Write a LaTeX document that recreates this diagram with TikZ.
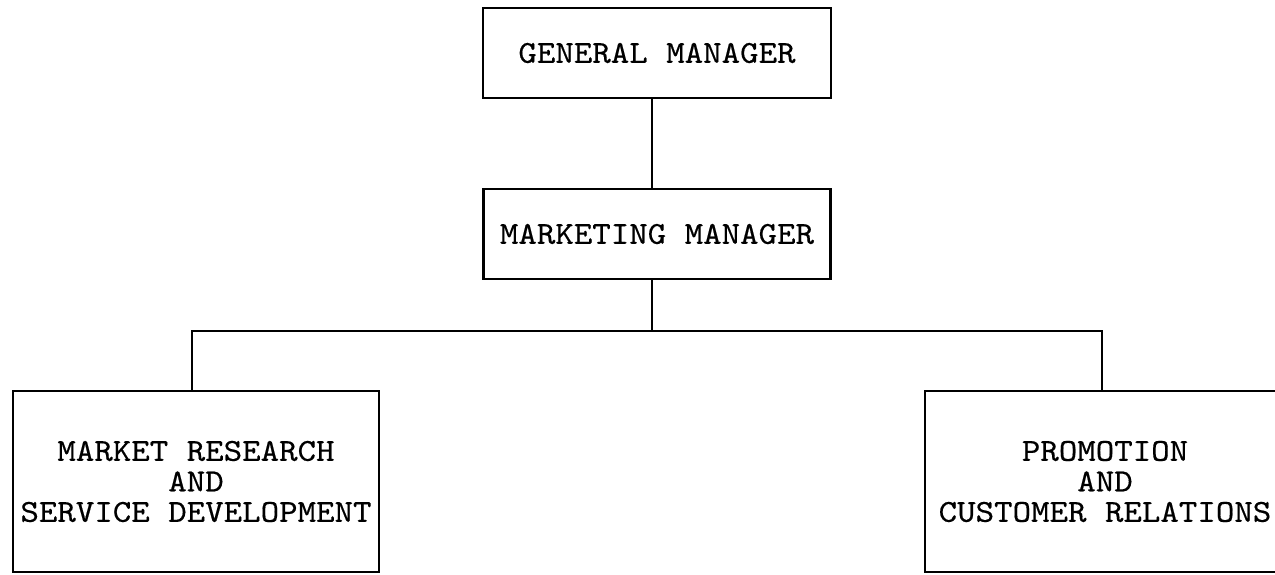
\documentclass[tikz,border=0pt]{standalone}
\usepackage{fontspec}
\newfontfamily\typew{lmmono10-regular.otf}[FakeStretch=1.1,FakeBold=0.4]
\begin{document}
\begin{tikzpicture}[x=1pt,y=-1pt,
  line width=2.9pt,
  box/.style={draw, rectangle, inner sep=0pt, align=center,
    font=\typew\fontsize{32}{30.5}\selectfont},
  link/.style={line width=2.5pt}]
\useasboundingbox (0,0) rectangle (1275,575);

% boxes
\node[box, minimum width=348pt, minimum height=90pt] (gm) at (657,53) {GENERAL MANAGER};
\node[box, minimum width=347pt, minimum height=90pt] (mm) at (657,234) {MARKETING MANAGER};
\node[box, minimum width=366pt, minimum height=181pt] (mr) at (196,481.5)
  {MARKET RESEARCH\\AND\\SERVICE DEVELOPMENT};
\node[box, minimum width=360pt, minimum height=181pt] (pc) at (1105,481.5)
  {PROMOTION\\AND\\CUSTOMER RELATIONS};

% connectors
\coordinate (bus) at (652,331);
\draw[link] ([xshift=-5pt]gm.south) -- ([xshift=-5pt]mm.north);
\draw[link] ([xshift=-5pt]mm.south) -- (bus);
\draw[link] ([xshift=-4pt]mr.north) |- (bus) -| ([xshift=-3pt]pc.north);
\end{tikzpicture}
\end{document}
